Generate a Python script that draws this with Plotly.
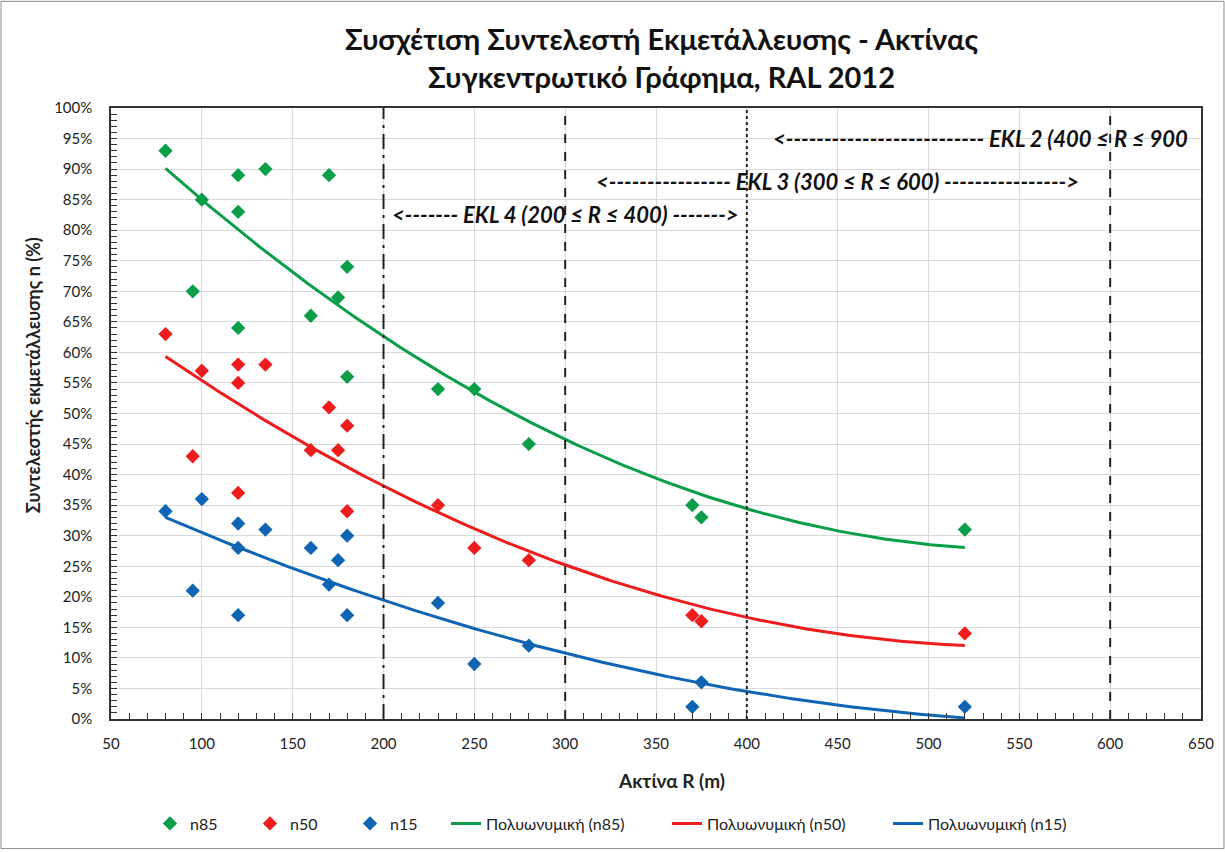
import numpy as np
import plotly.graph_objects as go

R = [80, 95, 100, 120, 120, 120, 135, 160, 170, 175, 180, 180, 230, 250, 280, 370, 375, 520]
n85 = [93, 70, 85, 89, 83, 64, 90, 66, 89, 69, 74, 56, 54, 54, 45, 35, 33, 31]
n50 = [63, 43, 57, 58, 55, 37, 58, 44, 51, 44, 48, 34, 35, 28, 26, 17, 16, 14]
n15 = [34, 21, 36, 32, 28, 17, 31, 28, 22, 26, 30, 17, 19, 9, 12, 2, 6, 2]

series_names = ["n85", "n50", "n15"]
trend_names = ["Πολυωνυμική (n85)", "Πολυωνυμική (n50)", "Πολυωνυμική (n15)"]
colors = ["#0A9E48", "#EE1C1C", "#0F64B4"]

zone_x = [200, 300, 400, 600]
zone_dash = ["longdashdot", "dash", "dot", "dash"]
zone_labels = [
    "<------- EKL 4 (200 ≤ R ≤ 400) ------->",
    "<---------------- EKL 3 (300 ≤ R ≤ 600) ---------------->",
    "<-------------------------- EKL 2 (400 ≤ R ≤ 900",
]
zone_label_x = [300, 450, 644]
zone_label_y = [82.5, 88, 95]
zone_label_anchor = ["center", "center", "right"]

FONT = "Lato, 'Open Sans', sans-serif"

fig = go.Figure()
for name, ys, c in zip(series_names, [n85, n50, n15], colors):
    fig.add_trace(go.Scatter(x=R, y=ys, mode="markers", name=name, legend="legend",
                             marker=dict(symbol="diamond", size=11, color=c)))

rx = np.linspace(min(R), max(R), 200)
for name, ys, c in zip(trend_names, [n85, n50, n15], colors):
    coef = np.polyfit(R, ys, 2)
    fig.add_trace(go.Scatter(x=rx, y=np.polyval(coef, rx), mode="lines", name=name, legend="legend2",
                             line=dict(color=c, width=3)))

for xv, d in zip(zone_x, zone_dash):
    fig.add_shape(type="line", xref="x", yref="paper", x0=xv, x1=xv, y0=0, y1=1,
                  line=dict(color="#222222", width=2, dash=d))

for t, xv, yv, a in zip(zone_labels, zone_label_x, zone_label_y, zone_label_anchor):
    fig.add_annotation(x=xv, y=yv, xref="x", yref="y",
                       text="<b><i>" + t.replace("<", "&lt;").replace(">", "&gt;") + "</i></b>",
                       showarrow=False, xanchor=a, font=dict(size=22, color="#111111", family=FONT))

# axis titles (placed like the original, slightly off-centre)
fig.add_annotation(text="<b>Ακτίνα R (m)</b>", xref="paper", yref="paper", x=(671 - 111) / 1090,
                   y=-(783 - 721) / 613, showarrow=False, xanchor="center", yanchor="middle",
                   font=dict(size=19, family=FONT, color="#222222"))
fig.add_annotation(text="<b>Συντελεστής εκμετάλλευσης n (%)</b>", xref="paper", yref="paper",
                   x=-(111 - 33) / 1090, y=(721 - 376) / 613, textangle=-90, showarrow=False,
                   xanchor="center", yanchor="middle", font=dict(size=18, family=FONT, color="#222222"))

# outer chart border
fig.add_shape(type="rect", xref="paper", yref="paper",
              x0=-110 / 1090, x1=1113 / 1090, y0=-130 / 613, y1=720 / 613,
              line=dict(color="#8c8c8c", width=1))

fig.update_layout(
    width=1225, height=852,
    margin=dict(l=111, r=24, t=108, b=131),
    paper_bgcolor="white", plot_bgcolor="white",
    font=dict(family=FONT, size=15, color="#222222"),
    title=dict(text="<b>Συσχέτιση Συντελεστή Εκμετάλλευσης - Ακτίνας<br>Συγκεντρωτικό Γράφημα, RAL 2012</b>",
               x=0.54, xanchor="center", y=0.941, yanchor="middle",
               font=dict(size=29, family=FONT, color="#111111")),
    legend=dict(orientation="h", x=(150 - 111) / 1090, xanchor="left", y=-0.171, yanchor="middle",
                font=dict(size=16, family=FONT), entrywidth=55, entrywidthmode="pixels"),
    legend2=dict(orientation="h", x=(446 - 111) / 1090, xanchor="left", y=-0.171, yanchor="middle",
                 font=dict(size=16, family=FONT), entrywidth=176, entrywidthmode="pixels"),
    showlegend=True,
)
fig.update_xaxes(range=[50, 650], dtick=50, tick0=50, showgrid=True, gridcolor="#d9d9d9", gridwidth=1,
                 showline=True, linecolor="#333333", linewidth=1.5, mirror=True,
                 ticks="inside", ticklen=6, tickcolor="#333333", ticklabelstandoff=10,
                 minor=dict(dtick=10, ticks="inside", ticklen=6, tickcolor="#333333", showgrid=False),
                 zeroline=False, tickfont=dict(size=15))
fig.update_yaxes(range=[0, 100], dtick=5, ticksuffix="%", showgrid=True, gridcolor="#d9d9d9", gridwidth=1,
                 showline=True, linecolor="#333333", linewidth=1.5, mirror=True,
                 ticks="inside", ticklen=6, tickcolor="#333333", ticklabelstandoff=14,
                 minor=dict(dtick=1, ticks="inside", ticklen=6, tickcolor="#333333", showgrid=False),
                 zeroline=False, tickfont=dict(size=15))

fig.write_html("out.html", config={"displayModeBar": False},
               post_script="document.body.style.margin='0px';document.body.style.overflow='hidden';")
